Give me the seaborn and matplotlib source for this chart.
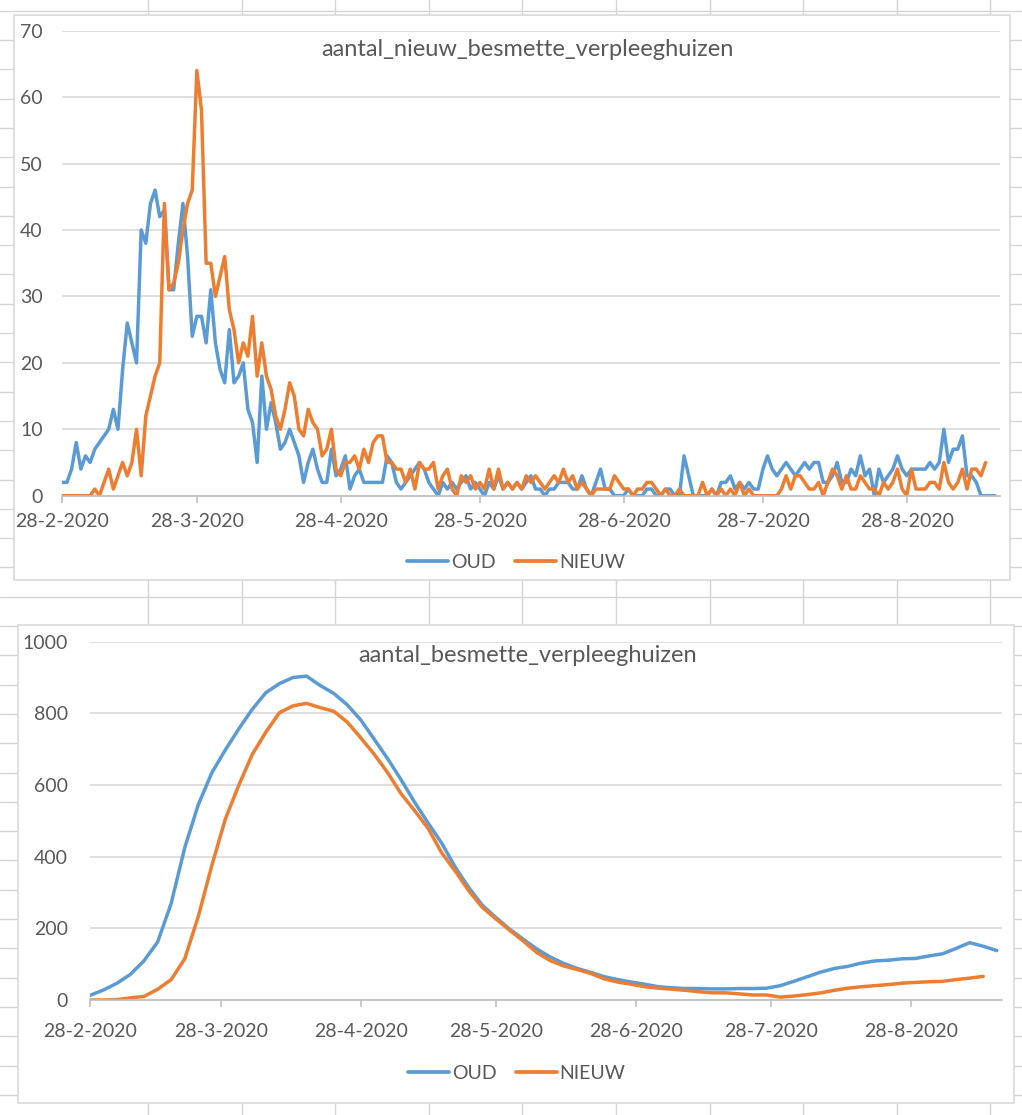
import pandas as pd
import numpy as np
import matplotlib
matplotlib.use("Agg")
import matplotlib.pyplot as plt
from matplotlib.lines import Line2D
from matplotlib.patches import Rectangle
import seaborn as sns

# ---- data (gelezen uit de grafieken) ----
START = "2020-02-28"

# aantal nieuw besmette verpleeghuizen per dag
oud_nieuw = [
    2, 2, 4, 8, 4, 6, 5, 7, 8, 9,
    10, 13, 10, 19, 26, 23, 20, 40, 38, 44,
    46, 42, 43, 31, 31, 38, 44, 36, 24, 27,
    27, 23, 31, 23, 19, 17, 25, 17, 18, 20,
    13, 11, 5, 18, 10, 14, 11, 7, 8, 10,
    8, 6, 2, 5, 7, 4, 2, 2, 7, 3,
    4, 6, 1, 3, 4, 2, 2, 2, 2, 2,
    6, 5, 2, 1, 2, 3, 4, 5, 4, 2,
    1, 0, 2, 1, 2, 1, 2, 3, 1, 2,
    1, 0, 2, 1, 3, 1, 2, 1, 2, 1,
    2, 3, 1, 1, 0, 1, 1, 2, 2, 2,
    1, 1, 3, 1, 0, 2, 4, 1, 1, 0,
    0, 0, 1, 0, 0, 0, 1, 1, 0, 0,
    1, 1, 0, 0, 6, 3, 0, 0, 0, 0,
    1, 0, 2, 2, 3, 1, 2, 1, 2, 1,
    1, 4, 6, 4, 3, 4, 5, 4, 3, 4,
    5, 4, 5, 5, 2, 2, 3, 5, 2, 2,
    4, 3, 6, 3, 4, 0, 4, 2, 3, 4,
    6, 4, 3, 4, 4, 4, 4, 5, 4, 5,
    10, 5, 7, 7, 9, 3, 3, 2, 0, 0,
    0, 0,
]
nieuw_nieuw = [
    0, 0, 0, 0, 0, 0, 0, 1, 0, 2,
    4, 1, 3, 5, 3, 5, 10, 3, 12, 15,
    18, 20, 44, 31, 32, 35, 40, 44, 46, 64,
    58, 35, 35, 30, 33, 36, 28, 25, 20, 23,
    21, 27, 18, 23, 18, 16, 12, 10, 13, 17,
    15, 10, 9, 13, 11, 10, 6, 7, 10, 4,
    3, 5, 5, 6, 4, 7, 5, 8, 9, 9,
    5, 5, 4, 4, 2, 4, 1, 5, 4, 4,
    5, 1, 3, 4, 1, 0, 3, 2, 3, 1,
    2, 1, 4, 1, 4, 1, 2, 1, 2, 1,
    3, 2, 3, 2, 1, 2, 3, 2, 4, 2,
    3, 1, 2, 1, 0, 1, 1, 1, 1, 3,
    2, 1, 1, 0, 1, 1, 2, 2, 1, 0,
    1, 0, 0, 1, 0, 0, 0, 0, 2, 0,
    1, 0, 1, 0, 1, 0, 2, 0, 1, 0,
    0, 0, 0, 0, 0, 1, 3, 1, 3, 3,
    2, 1, 1, 2, 0, 2, 4, 3, 1, 3,
    1, 1, 3, 2, 1, 1, 0, 2, 1, 2,
    4, 1, 0, 4, 1, 1, 1, 2, 2, 1,
    5, 2, 1, 2, 4, 1, 4, 4, 3, 5,
]

oud_besmet = [
    13, 28, 47, 72, 110, 162, 270, 425, 545, 634,
    698, 757, 812, 858, 883, 900, 904, 878, 856, 824,
    782, 728, 673, 614, 551, 493, 437, 370, 313, 264,
    230, 198, 170, 143, 120, 102, 88, 77, 65, 57,
    50, 44, 37, 34, 32, 32, 31, 31, 32, 32,
    33, 40, 52, 65, 78, 88, 94, 103, 109, 111,
    115, 116, 123, 129, 144, 160, 150, 138,
]
nieuw_besmet = [
    0, 0, 1, 6, 10, 30, 57, 115, 233, 375,
    505, 600, 686, 748, 802, 821, 828, 816, 806, 776,
    732, 686, 634, 575, 528, 478, 410, 359, 304, 258,
    226, 195, 165, 133, 110, 95, 85, 74, 59, 50,
    44, 37, 33, 30, 27, 23, 20, 20, 17, 14,
    14, 8, 11, 15, 20, 27, 33, 37, 40, 43,
    47, 49, 51, 52, 57, 61, 66,
]

reeksen = ["OUD", "NIEUW"]
tick_datums = ["2020-02-28", "2020-03-28", "2020-04-28", "2020-05-28",
               "2020-06-28", "2020-07-28", "2020-08-28"]
tick_labels = ["28-2-2020", "28-3-2020", "28-4-2020", "28-5-2020",
               "28-6-2020", "28-7-2020", "28-8-2020"]
titels = ["aantal_nieuw_besmette_verpleeghuizen", "aantal_besmette_verpleeghuizen"]

# ---- stijl ----
sns.set_theme(style="white")
plt.rcParams['font.family'] = ['Lato', 'DejaVu Sans']
KLEUREN = {"OUD": "#5B9BD5", "NIEUW": "#ED7D31"}
GRIJS_TEKST = "#595959"
GRIJS_LIJN = "#D9D9D9"
W, H = 1022, 1115


def fx(x):
    return x / W


def fy(y):
    return 1 - y / H


def lange_tabel(series, freq):
    delen = []
    for naam, waarden in zip(reeksen, series):
        datums = pd.date_range(START, periods=len(waarden), freq=freq)
        delen.append(pd.DataFrame({"datum": datums, "aantal": waarden, "reeks": naam}))
    return pd.concat(delen, ignore_index=True)


fig = plt.figure(figsize=(W / 100, H / 100), dpi=100, facecolor="white")

# spreadsheet raster achter de grafieken
for x in [148, 241.6, 335, 429, 522, 616, 710, 803, 897, 990]:
    fig.add_artist(Line2D([fx(x), fx(x)], [0, 1], transform=fig.transFigure,
                          color="#D4D4D4", lw=1, zorder=-3))
for k in range(38):
    y = 10.7 + 29.3 * k
    fig.add_artist(Line2D([0, 1], [fy(y), fy(y)], transform=fig.transFigure,
                          color="#D4D4D4", lw=1, zorder=-3))

# grafiekkaders
for (x0, y0, x1, y1) in [(14, 15, 1010, 580), (18, 625, 1014, 1103)]:
    fig.add_artist(Rectangle((fx(x0), fy(y1)), fx(x1) - fx(x0), fy(y0) - fy(y1),
                             transform=fig.transFigure, facecolor="white",
                             edgecolor=GRIJS_LIJN, lw=1.2, zorder=-2))

ax1 = fig.add_axes([fx(62.3), fy(495.7), fx(1000) - fx(62.3), fy(30.7) - fy(495.7)])
ax2 = fig.add_axes([fx(90), fy(1000), fx(1001.7) - fx(90), fy(641.7) - fy(1000)])

df_top = lange_tabel([oud_nieuw, nieuw_nieuw], "D")
df_bot = lange_tabel([oud_besmet, nieuw_besmet], "3D")

sns.lineplot(data=df_top, x="datum", y="aantal", hue="reeks", palette=KLEUREN,
             estimator=None, linewidth=2.5, ax=ax1, legend=False)
sns.lineplot(data=df_bot, x="datum", y="aantal", hue="reeks", palette=KLEUREN,
             estimator=None, linewidth=2.5, ax=ax2, legend=False)

x0 = pd.Timestamp(START)
x1 = x0 + pd.Timedelta(days=202.1)

instellingen = [
    (ax1, 70, 10, 7.5, 14, (0.484, -0.143), (527, 50)),
    (ax2, 1000, 200, 11.5, 16, (0.468, -0.204), (528, 656)),
]
for ax, ymax, stap, xpad, ypad, leg_pos, titel_pos in instellingen:
    ax.set_facecolor("white")
    ax.set_xlim(x0, x1)
    ax.set_ylim(0, ymax)
    ax.set_yticks(np.arange(0, ymax + 1, stap))
    ax.set_xticks(pd.to_datetime(tick_datums))
    ax.set_xticklabels(tick_labels)
    ax.set_xlabel("")
    ax.set_ylabel("")
    ax.yaxis.grid(True, color=GRIJS_LIJN, lw=1.2)
    ax.xaxis.grid(False)
    ax.set_axisbelow(True)
    for s in ["top", "right", "left"]:
        ax.spines[s].set_visible(False)
    ax.spines["bottom"].set_color("#BFBFBF")
    ax.spines["bottom"].set_linewidth(1.2)
    ax.tick_params(axis="x", direction="out", length=5, width=1.2, color="#BFBFBF",
                   pad=xpad, labelsize=14, labelcolor=GRIJS_TEKST, bottom=True)
    ax.tick_params(axis="y", length=0, pad=ypad, labelsize=14, labelcolor=GRIJS_TEKST)
    handles = [Line2D([], [], color=KLEUREN[r], lw=2.7, label=r) for r in reeksen]
    ax.legend(handles=handles, loc="center", bbox_to_anchor=leg_pos, ncol=2,
              frameon=False, fontsize=14, labelcolor=GRIJS_TEKST, handlelength=2.1,
              handletextpad=0.15, columnspacing=1.0)
    fig.text(fx(titel_pos[0]), fy(titel_pos[1]), titels[0] if ax is ax1 else titels[1],
             ha="center", va="center", fontsize=17, color=GRIJS_TEKST)

fig.savefig("out.png", dpi=100, facecolor="white")
